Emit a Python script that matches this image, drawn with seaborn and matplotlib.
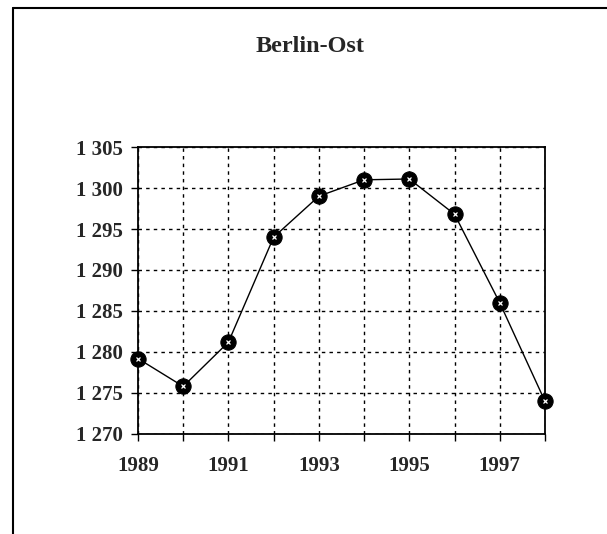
import matplotlib
matplotlib.use("Agg")
import matplotlib.pyplot as plt
import seaborn as sns
import pandas as pd
from matplotlib.lines import Line2D
from matplotlib.ticker import FuncFormatter

years = [1989, 1990, 1991, 1992, 1993, 1994, 1995, 1996, 1997, 1998]
population = [1279.2, 1275.8, 1281.2, 1294.0, 1299.0, 1301.0, 1301.1, 1296.8, 1286.0, 1274.0]
title = "Berlin-Ost"
y_ticks = [1270, 1275, 1280, 1285, 1290, 1295, 1300, 1305]

df = pd.DataFrame({"Jahr": years, "Einwohner": population})

sns.set_style("white")
plt.rcParams['font.family'] = ['Liberation Serif', 'DejaVu Serif']

fig = plt.figure(figsize=(6.07, 5.34), dpi=100)
ax = fig.add_axes([0.2273, 0.1873, 0.6705, 0.5374])

sns.lineplot(data=df, x="Jahr", y="Einwohner", ax=ax, color="black", linewidth=1.0,
             marker="o", markersize=11, markerfacecolor="black", markeredgecolor="black",
             zorder=3, clip_on=False)
ax.plot(df["Jahr"], df["Einwohner"], linestyle="none", marker="x", markersize=3,
        color="white", markeredgewidth=0.9, zorder=4, clip_on=False)

ax.set_xlim(1989, 1998)
ax.set_ylim(1270, 1305)
ax.set_xticks(years)
ax.set_xticklabels([str(y) if y % 2 == 1 else "" for y in years])
ax.set_yticks(y_ticks)
ax.yaxis.set_major_formatter(FuncFormatter(lambda v, p: f"{int(v):,}".replace(",", " ")))

ax.grid(True, color="black", linestyle=(0, (2.5, 3)), linewidth=1.0)
for s in ax.spines.values():
    s.set_visible(True)
    s.set_color("black")
    s.set_linewidth(1.3)

ax.tick_params(axis="both", which="major", direction="out", length=5, width=1.0,
               color="black", labelsize=15, bottom=True, left=True)
ax.tick_params(axis="x", pad=11)
ax.tick_params(axis="y", pad=6)
for lab in ax.get_xticklabels() + ax.get_yticklabels():
    lab.set_fontweight("bold")
ax.set_xlabel("")
ax.set_ylabel("")

fig.text(0.51, 0.912, title, ha="center", va="center", fontsize=17.5, fontweight="bold")

# page frame: left and top border
fig.add_artist(Line2D([13/607, 13/607], [0, 1 - 8/534], color="black", linewidth=1.5,
                      transform=fig.transFigure))
fig.add_artist(Line2D([13/607, 1], [1 - 8/534, 1 - 8/534], color="black", linewidth=1.5,
                      transform=fig.transFigure))

fig.savefig("out.png", dpi=100)
